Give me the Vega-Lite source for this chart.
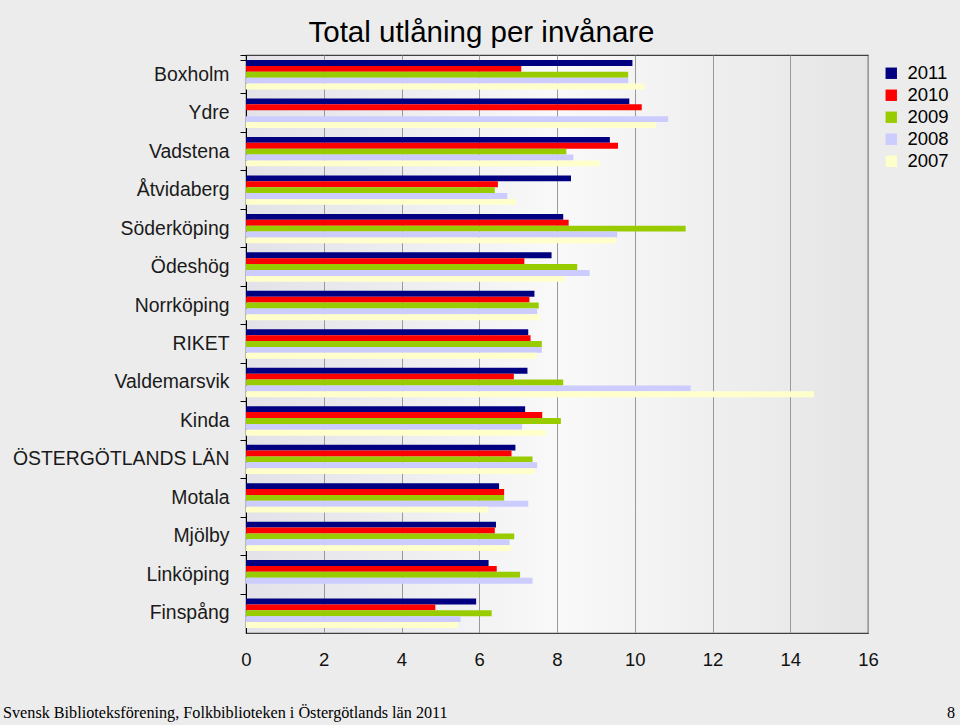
{
  "$schema": "https://vega.github.io/schema/vega-lite/v6.json",
  "background": "#ececec",
  "padding": {"left": 3, "right": 0, "top": 17, "bottom": 0},
  "title": {"text": "Total utlåning per invånare", "font": "Liberation Sans", "fontSize": 29.5, "fontWeight": "normal", "color": "#000000", "anchor": "middle", "frame": "bounds", "offset": -4},
  "config": {"font": "Liberation Sans"},
  "columns": 1,
  "spacing": 30,
  "concat": [
    {
      "width": 622,
      "height": 578,
      "view": {
        "fill": {"gradient": "linear", "x1": 0, "y1": 0, "x2": 1, "y2": 0, "stops": [{"offset": 0, "color": "#e2e2e8"}, {"offset": 0.5, "color": "#f9f9f9"}, {"offset": 1, "color": "#e5e5e5"}]},
        "stroke": "#404040",
        "strokeWidth": 1.2
      },
      "data": {
        "values": [
          {"k": "Boxholm", "year": "2011", "v": 9.94},
          {"k": "Boxholm", "year": "2010", "v": 7.08},
          {"k": "Boxholm", "year": "2009", "v": 9.83},
          {"k": "Boxholm", "year": "2008", "v": 9.83},
          {"k": "Boxholm", "year": "2007", "v": 10.25},
          {"k": "Ydre", "year": "2011", "v": 9.86},
          {"k": "Ydre", "year": "2010", "v": 10.18},
          {"k": "Ydre", "year": "2008", "v": 10.86},
          {"k": "Ydre", "year": "2007", "v": 10.54},
          {"k": "Vadstena", "year": "2011", "v": 9.36},
          {"k": "Vadstena", "year": "2010", "v": 9.57},
          {"k": "Vadstena", "year": "2009", "v": 8.24},
          {"k": "Vadstena", "year": "2008", "v": 8.42},
          {"k": "Vadstena", "year": "2007", "v": 9.1},
          {"k": "Åtvidaberg", "year": "2011", "v": 8.36},
          {"k": "Åtvidaberg", "year": "2010", "v": 6.48},
          {"k": "Åtvidaberg", "year": "2009", "v": 6.4},
          {"k": "Åtvidaberg", "year": "2008", "v": 6.72},
          {"k": "Åtvidaberg", "year": "2007", "v": 6.95},
          {"k": "Söderköping", "year": "2011", "v": 8.16},
          {"k": "Söderköping", "year": "2010", "v": 8.3},
          {"k": "Söderköping", "year": "2009", "v": 11.31},
          {"k": "Söderköping", "year": "2008", "v": 9.55},
          {"k": "Söderköping", "year": "2007", "v": 9.52},
          {"k": "Ödeshög", "year": "2011", "v": 7.86},
          {"k": "Ödeshög", "year": "2010", "v": 7.16},
          {"k": "Ödeshög", "year": "2009", "v": 8.52},
          {"k": "Ödeshög", "year": "2008", "v": 8.84},
          {"k": "Ödeshög", "year": "2007", "v": 8.2},
          {"k": "Norrköping", "year": "2011", "v": 7.42},
          {"k": "Norrköping", "year": "2010", "v": 7.29},
          {"k": "Norrköping", "year": "2009", "v": 7.53},
          {"k": "Norrköping", "year": "2008", "v": 7.49},
          {"k": "Norrköping", "year": "2007", "v": 7.56},
          {"k": "RIKET", "year": "2011", "v": 7.26},
          {"k": "RIKET", "year": "2010", "v": 7.32},
          {"k": "RIKET", "year": "2009", "v": 7.61},
          {"k": "RIKET", "year": "2008", "v": 7.61},
          {"k": "RIKET", "year": "2007", "v": 7.47},
          {"k": "Valdemarsvik", "year": "2011", "v": 7.24},
          {"k": "Valdemarsvik", "year": "2010", "v": 6.89},
          {"k": "Valdemarsvik", "year": "2009", "v": 8.16},
          {"k": "Valdemarsvik", "year": "2008", "v": 11.44},
          {"k": "Valdemarsvik", "year": "2007", "v": 14.61},
          {"k": "Kinda", "year": "2011", "v": 7.18},
          {"k": "Kinda", "year": "2010", "v": 7.62},
          {"k": "Kinda", "year": "2009", "v": 8.1},
          {"k": "Kinda", "year": "2008", "v": 7.1},
          {"k": "Kinda", "year": "2007", "v": 7.72},
          {"k": "ÖSTERGÖTLANDS LÄN", "year": "2011", "v": 6.93},
          {"k": "ÖSTERGÖTLANDS LÄN", "year": "2010", "v": 6.83},
          {"k": "ÖSTERGÖTLANDS LÄN", "year": "2009", "v": 7.37},
          {"k": "ÖSTERGÖTLANDS LÄN", "year": "2008", "v": 7.49},
          {"k": "ÖSTERGÖTLANDS LÄN", "year": "2007", "v": 7.42},
          {"k": "Motala", "year": "2011", "v": 6.51},
          {"k": "Motala", "year": "2010", "v": 6.64},
          {"k": "Motala", "year": "2009", "v": 6.64},
          {"k": "Motala", "year": "2008", "v": 7.26},
          {"k": "Motala", "year": "2007", "v": 6.23},
          {"k": "Mjölby", "year": "2011", "v": 6.43},
          {"k": "Mjölby", "year": "2010", "v": 6.4},
          {"k": "Mjölby", "year": "2009", "v": 6.9},
          {"k": "Mjölby", "year": "2008", "v": 6.78},
          {"k": "Mjölby", "year": "2007", "v": 6.82},
          {"k": "Linköping", "year": "2011", "v": 6.24},
          {"k": "Linköping", "year": "2010", "v": 6.45},
          {"k": "Linköping", "year": "2009", "v": 7.05},
          {"k": "Linköping", "year": "2008", "v": 7.37},
          {"k": "Finspång", "year": "2011", "v": 5.92},
          {"k": "Finspång", "year": "2010", "v": 4.87},
          {"k": "Finspång", "year": "2009", "v": 6.32},
          {"k": "Finspång", "year": "2008", "v": 5.52},
          {"k": "Finspång", "year": "2007", "v": 5.45}
        ]
      },
      "mark": {"type": "bar"},
      "encoding": {
        "y": {
          "field": "k",
          "type": "nominal",
          "sort": ["Boxholm", "Ydre", "Vadstena", "Åtvidaberg", "Söderköping", "Ödeshög", "Norrköping", "RIKET", "Valdemarsvik", "Kinda", "ÖSTERGÖTLANDS LÄN", "Motala", "Mjölby", "Linköping", "Finspång"],
          "scale": {"paddingInner": 0.235, "paddingOuter": 0.13},
          "axis": {"title": null, "labelFontSize": 19.4, "labelLimit": 400, "labelColor": "#1a1a1a", "labelPadding": 11, "tickSize": 6, "tickColor": "#000000", "domainColor": "#000000", "bandPosition": -0.153, "tickExtra": true}
        },
        "yOffset": {"field": "year", "type": "nominal", "sort": ["2011", "2010", "2009", "2008", "2007"]},
        "x": {
          "field": "v",
          "type": "quantitative",
          "scale": {"domain": [0, 16], "nice": false},
          "axis": {"title": null, "values": [0, 2, 4, 6, 8, 10, 12, 14, 16], "labelFontSize": 18.5, "labelColor": "#111111", "labelPadding": 17, "ticks": false, "grid": true, "gridColor": "#999999", "domainColor": "#404040", "labelFlush": false}
        },
        "color": {
          "field": "year",
          "type": "nominal",
          "scale": {"domain": ["2011", "2010", "2009", "2008", "2007"], "range": ["#000080", "#ff0000", "#99cc00", "#ccccff", "#ffffcc"]},
          "legend": {"title": null, "orient": "none", "legendX": 636, "legendY": 9, "labelFontSize": 18.5, "labelColor": "#000000", "symbolType": "square", "symbolSize": 130, "symbolStrokeWidth": 0, "labelOffset": 7, "rowPadding": 3, "padding": 0}
        }
      }
    },
    {
      "width": 714,
      "height": 25,
      "view": {"stroke": null},
      "data": {"values": [{"t": "Svensk Biblioteksförening, Folkbiblioteken i Östergötlands län 2011", "side": "left"}, {"t": "8", "side": "right"}]},
      "layer": [
        {
          "transform": [{"filter": "datum.side === 'left'"}],
          "mark": {"type": "text", "align": "left", "baseline": "middle", "font": "Liberation Serif", "fontSize": 16.2, "color": "#000000"},
          "encoding": {
            "x": {"field": "side", "type": "nominal", "scale": {"type": "point", "domain": ["left", "right"], "range": [-243, 709], "padding": 0}, "axis": null},
            "text": {"field": "t"}
          }
        },
        {
          "transform": [{"filter": "datum.side === 'right'"}],
          "mark": {"type": "text", "align": "right", "baseline": "middle", "font": "Liberation Serif", "fontSize": 16.2, "color": "#000000"},
          "encoding": {
            "x": {"field": "side", "type": "nominal", "scale": {"type": "point", "domain": ["left", "right"], "range": [-243, 709], "padding": 0}, "axis": null},
            "text": {"field": "t"}
          }
        }
      ]
    }
  ]
}
